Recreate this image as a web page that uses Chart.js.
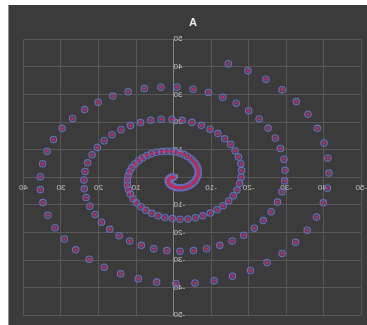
<!DOCTYPE html>
<html>
<head>
<meta charset="utf-8">
<script src="https://cdn.jsdelivr.net/npm/chart.js@4/dist/chart.umd.min.js"></script>
<style>
  html, body { margin: 0; padding: 0; background: #ffffff; }
  #stage { position: relative; width: 367px; height: 325px; overflow: hidden; transform: scaleX(-1); }
  #panel { position: absolute; left: 0; top: 5px; width: 358px; height: 320px; background: #3b3b3b; border-right: 1px solid #8e8e8e; }
  #wrap { position: absolute; left: -6px; top: 0; width: 360px; height: 320px; }
</style>
</head>
<body>
<div id="stage"><div id="panel"><div id="wrap"><canvas id="chart"></canvas></div></div></div>
<script>
// Series "A": an outward spiral, one point per sample
const seriesName = 'A';

const xValues = [
  0, 0.2, 0.5, 0.7, 1.0, 1.1, 1.3, 1.4, 1.4, 1.3,
  1.2, 1.0, 0.7, 0.3, -0.1, -0.6, -1.1, -1.7, -2.4, -3.0,
  -3.6, -4.2, -4.8, -5.3, -5.8, -6.1, -6.4, -6.6, -6.6, -6.5,
  -6.2, -5.8, -5.2, -4.6, -3.7, -2.8, -1.7, -0.6, 0.7, 1.9,
  3.2, 4.6, 5.9, 7.1, 8.3, 9.3, 10.3, 11.1, 11.7, 12.1,
  12.3, 12.3, 12.0, 11.5, 10.8, 9.9, 8.7, 7.4, 5.8, 4.1,
  2.3, 0.3, -1.7, -3.8, -5.8, -7.8, -9.8, -11.6, -13.2, -14.7,
  -15.9, -16.9, -17.6, -18.0, -18.1, -17.9, -17.3, -16.4, -15.2, -13.6,
  -11.8, -9.7, -7.4, -4.9, -2.3, 0.4, 3.3, 6.1, 8.8, 11.5,
  14.0, 16.4, 18.5, 20.3, 21.7, 22.9, 23.6, 23.9, 23.8, 23.3,
  22.3, 20.9, 19.2, 17.0, 14.5, 11.7, 8.6, 5.3, 1.8, -1.7,
  -5.3, -8.8, -12.3, -15.6, -18.7, -21.5, -23.9, -26.0, -27.7, -28.9,
  -29.6, -29.7, -29.4, -28.5, -27.1, -25.2, -22.8, -20.0, -16.7, -13.1,
  -9.3, -5.2, -0.9, 3.4, 7.8, 12.1, 16.2, 20.1, 23.7, 26.9,
  29.7, 32.0, 33.7, 34.9, 35.5, 35.5, 34.8, 33.5, 31.6, 29.1,
  26.1, 22.5, 18.5, 14.1, 9.4, 4.5, -0.6, -5.7, -10.8, -15.7,
  -20.5, -24.9, -28.9, -32.5, -35.6, -38.1, -39.9, -41.0, -41.4, -41.1,
  -40.1, -38.3, -35.8, -32.7, -28.9, -24.6, -19.8, -14.6
];

const yValues = [
  0.0, 0.0, 0.0, -0.1, -0.3, -0.5, -0.8, -1.1, -1.4, -1.8,
  -2.2, -2.5, -2.9, -3.2, -3.5, -3.7, -3.8, -3.8, -3.8, -3.6,
  -3.4, -3.0, -2.5, -1.9, -1.3, -0.5, 0.3, 1.2, 2.1, 3.1,
  4.1, 5.0, 5.9, 6.7, 7.5, 8.2, 8.7, 9.1, 9.4, 9.4,
  9.3, 9.0, 8.5, 7.9, 7.0, 6.0, 4.8, 3.5, 2.1, 0.5,
  -1.1, -2.8, -4.5, -6.1, -7.8, -9.3, -10.7, -12.0, -13.1, -14.0,
  -14.6, -15.0, -15.2, -15.1, -14.7, -14.0, -13.0, -11.8, -10.3, -8.6,
  -6.7, -4.6, -2.3, 0.0, 2.4, 4.9, 7.3, 9.6, 11.9, 13.9,
  15.8, 17.4, 18.8, 19.9, 20.6, 21.0, 21.0, 20.6, 19.8, 18.7,
  17.2, 15.4, 13.2, 10.8, 8.1, 5.2, 2.1, -1.0, -4.2, -7.4,
  -10.5, -13.5, -16.3, -18.9, -21.2, -23.1, -24.7, -25.9, -26.6, -26.8,
  -26.6, -25.9, -24.7, -23.1, -21.0, -18.5, -15.7, -12.5, -9.0, -5.3,
  -1.4, 2.5, 6.5, 10.4, 14.2, 17.8, 21.1, 24.1, 26.8, 29.0,
  30.7, 31.9, 32.6, 32.6, 32.1, 31.0, 29.4, 27.2, 24.5, 21.3,
  17.7, 13.7, 9.4, 4.9, 0.2, -4.5, -9.2, -13.8, -18.3, -22.4,
  -26.3, -29.7, -32.6, -35.0, -36.8, -38.0, -38.5, -38.3, -37.5, -35.9,
  -33.8, -30.9, -27.6, -23.6, -19.2, -14.4, -9.3, -4.0, 1.5, 7.0,
  12.4, 17.7, 22.8, 27.4, 31.7, 35.5, 38.6, 41.1
];

const xTicks = [-50, -40, -30, -20, -10, 0, 10, 20, 30, 40];
const yTicks = [-50, -40, -30, -20, -10, 0, 10, 20, 30, 40, 50];

const points = xValues.map((x, i) => ({ x: x, y: yValues[i] }));

Chart.defaults.font.family = '"Liberation Sans", Arial, sans-serif';

const gridColor = '#575757';
const tickColor = '#c4c4c4';

new Chart(document.getElementById('chart'), {
  type: 'scatter',
  data: {
    datasets: [
      {
        label: seriesName,
        data: points,
        pointRadius: 1.6,
        pointHoverRadius: 1.6,
        pointBackgroundColor: '#c02a5a',
        pointBorderWidth: 0,
        order: 0
      },
      {
        label: seriesName,
        data: points,
        pointRadius: 3.2,
        pointHoverRadius: 3.2,
        pointBackgroundColor: 'rgba(85, 90, 160, 0.3)',
        pointBorderColor: '#6a6eb8',
        pointBorderWidth: 1.1,
        order: 1
      }
    ]
  },
  options: {
    responsive: true,
    maintainAspectRatio: false,
    animation: false,
    devicePixelRatio: 1,
    layout: { padding: { left: 0, right: 0, top: 0, bottom: 9 } },
    plugins: {
      legend: { display: false },
      tooltip: { enabled: false },
      title: {
        display: true,
        text: seriesName,
        color: '#ececec',
        font: { size: 11, weight: 'bold' },
        padding: { top: 11, bottom: 10 }
      }
    },
    scales: {
      x: {
        type: 'linear',
        position: { y: 0 },
        min: xTicks[0],
        max: xTicks[xTicks.length - 1],
        afterBuildTicks: s => { s.ticks = xTicks.map(v => ({ value: v })); },
        grid: { color: gridColor, lineWidth: 1, drawTicks: false },
        border: { color: gridColor, width: 1 },
        ticks: { color: tickColor, font: { size: 8 }, padding: 6, maxRotation: 0, autoSkip: false }
      },
      y: {
        type: 'linear',
        position: { x: 0 },
        min: yTicks[0],
        max: yTicks[yTicks.length - 1],
        afterBuildTicks: s => { s.ticks = yTicks.map(v => ({ value: v })); },
        grid: { color: gridColor, lineWidth: 1, drawTicks: false },
        border: { color: '#858585', width: 1 },
        ticks: { color: tickColor, font: { size: 8 }, padding: 5, autoSkip: false }
      }
    }
  }
});
</script>
</body>
</html>
